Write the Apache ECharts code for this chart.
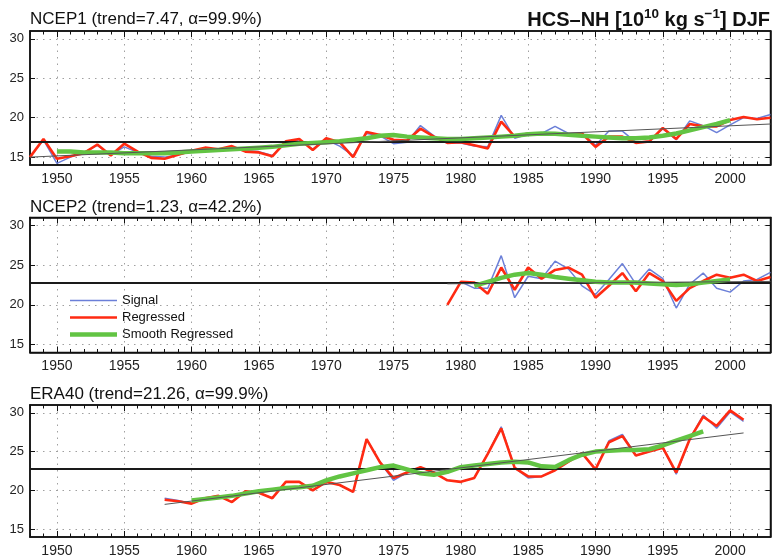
<!DOCTYPE html>
<html><head><meta charset="utf-8">
<script src="https://cdn.jsdelivr.net/npm/echarts@6/dist/echarts.min.js"></script>
<style>html,body{margin:0;padding:0;background:#fff}#c{width:773px;height:558px}</style>
</head><body><div id="c"></div>
<script>
// ---------- DATA ----------
const xMin = 1948, xMax = 2003;
const yMin = 14, yMax = 31;
const xTickLabels = [1950, 1955, 1960, 1965, 1970, 1975, 1980, 1985, 1990, 1995, 2000];
const yTickLabels = [15, 20, 25, 30];
const legendNames = ['Signal', 'Regressed', 'Smooth Regressed'];
const panelTitles = ['NCEP1 (trend=7.47, α=99.9%)', 'NCEP2 (trend=1.23, α=42.2%)', 'ERA40 (trend=21.26, α=99.9%)'];

// NCEP1
const ncep1Start = 1948;
const ncep1Signal = [15.0,17.2,14.2,15.0,15.6,16.5,15.3,16.3,15.6,15.1,
  15.0,15.3,15.7,16.1,16.0,16.3,15.8,15.7,15.2,16.8,
  17.2,16.0,17.2,16.4,15.2,18.0,17.7,16.7,16.9,19.0,
  17.7,16.8,16.8,16.4,16.3,20.3,17.4,17.9,18.0,18.9,
  18.0,18.1,16.5,18.3,18.3,16.9,17.0,18.6,17.2,19.6,
  19.0,18.1,19.1,20.0,19.9,20.4];
const ncep1Regressed = [15.0,17.3,14.8,15.1,15.5,16.6,15.2,16.7,15.7,14.9,
  14.8,15.3,15.8,16.2,16.0,16.4,15.7,15.6,15.1,17.0,
  17.3,15.9,17.4,16.9,15.0,18.2,17.8,17.2,17.1,18.6,
  17.6,16.8,16.9,16.5,16.1,19.5,17.6,18.0,17.9,18.0,
  17.9,18.0,16.3,17.6,17.6,16.8,17.0,18.7,17.3,19.2,
  18.9,18.9,19.7,20.1,19.8,20.0];
const ncep1SmoothStart = 1950;
const ncep1Smooth = [15.7,15.7,15.6,15.6,15.6,15.5,15.5,15.5,15.5,15.6,
  15.7,15.8,15.9,16.0,16.1,16.2,16.3,16.5,16.7,16.8,
  16.9,17.0,17.2,17.4,17.7,17.8,17.6,17.5,17.4,17.3,
  17.3,17.4,17.5,17.6,17.7,17.9,18.0,17.95,17.85,17.7,
  17.6,17.5,17.4,17.4,17.5,17.7,18.0,18.4,18.8,19.2,
  19.7];
const ncep1Trend = [[1948, 15.0], [2003, 19.2]];
const ncep1Mean = 17.0;

// NCEP2
const ncep2SignalStart = 1980;
const ncep2Signal = [22.9,22.1,22.1,26.2,20.9,23.6,23.3,25.5,24.5,22.4,21.3,23.2,25.2,22.6,24.5,23.3,19.6,22.6,24.0,22.1,21.6,23.0,23.2,24.1];
const ncep2RegStart = 1979;
const ncep2Regressed = [20.0,22.9,22.8,21.4,24.7,21.9,24.7,23.3,24.4,24.7,23.8,20.9,22.4,24.0,21.7,24.0,23.0,20.5,22.1,23.0,23.8,23.4,23.8,23.0,23.5];
const ncep2SmoothStart = 1981;
const ncep2Smooth = [22.4,22.9,23.4,23.8,24.0,23.8,23.5,23.3,23.1,22.9,22.8,22.8,22.8,22.7,22.6,22.5,22.6,22.8,23.0,23.2];
const ncep2Trend = [[1979, 22.65], [2003, 22.95]];
const ncep2Mean = 22.8;

// ERA40
const era40Start = 1958;
const era40Signal = [19.0,18.7,18.3,19.0,19.3,18.5,19.9,19.7,19.0,21.1,
  21.1,20.0,21.1,20.7,19.8,26.6,23.6,21.3,22.3,23.0,
  22.3,21.3,21.1,21.6,24.7,28.2,22.9,21.6,21.8,22.6,
  23.7,24.8,22.7,26.4,27.2,24.5,25.0,25.5,22.1,26.6,
  29.7,28.0,30.1,28.9];
const era40Regressed = [18.8,18.6,18.3,19.0,19.3,18.5,19.9,19.7,19.0,21.1,
  21.1,20.0,21.1,20.7,19.8,26.6,23.6,21.6,22.3,23.0,
  22.3,21.3,21.1,21.6,24.7,28.0,22.9,21.8,21.8,22.6,
  23.7,24.8,22.7,26.2,27.0,24.5,25.0,25.5,22.3,26.6,
  29.5,28.3,30.3,29.1];
const era40SmoothStart = 1960;
const era40Smooth = [18.7,18.9,19.1,19.3,19.6,19.9,20.1,20.3,20.4,20.6,
  21.3,21.8,22.2,22.6,23.0,23.2,22.7,22.2,22.0,22.4,
  23.0,23.2,23.4,23.6,23.7,23.6,23.1,23.0,23.9,24.6,
  25.0,25.1,25.2,25.2,25.3,25.8,26.4,27.0,27.6];
const era40Trend = [[1958, 18.2], [2001, 27.4]];
const era40Mean = 22.75;

// ---------- BUILD ----------
const pairs = (start, arr) => arr.map((v, i) => [start + i, v]);
const allYears = [];
for (let y = xMin; y <= xMax; y++) allYears.push(y);

const FONT = "'Liberation Sans', Arial, Helvetica, sans-serif";
const COL = { signal: '#6b7fd8', reg: '#ff2a12', smooth: '#62c443', trend: '#555' };
const W = { signal: 1.5, reg: 2.6, smooth: 4.5 };
const panels = [
  { signal: pairs(ncep1Start, ncep1Signal), reg: pairs(ncep1Start, ncep1Regressed), smooth: pairs(ncep1SmoothStart, ncep1Smooth), trend: ncep1Trend, mean: ncep1Mean },
  { signal: pairs(ncep2SignalStart, ncep2Signal), reg: pairs(ncep2RegStart, ncep2Regressed), smooth: pairs(ncep2SmoothStart, ncep2Smooth), trend: ncep2Trend, mean: ncep2Mean },
  { signal: pairs(era40Start, era40Signal), reg: pairs(era40Start, era40Regressed), smooth: pairs(era40SmoothStart, era40Smooth), trend: era40Trend, mean: era40Mean }
];
const gridTops = [31, 217.5, 405];
const gridHeights = [134, 135, 134];
const titleTops = [11, 198.5, 385.5];

const grids = [], xAxes = [], yAxes = [], series = [], titles = [];
const dotted = { show: true, lineStyle: { color: '#a0a0a0', width: 1, type: [1.5, 5] } };
const axisLineStyle = { show: true, lineStyle: { color: '#111', width: 1.5 } };
const yearFmt = v => String(Math.round(v));

panels.forEach((p, i) => {
  grids.push({ left: 30, right: 2.5, top: gridTops[i], height: gridHeights[i], show: true, borderColor: '#111', borderWidth: 1.5, backgroundColor: '#fff' });
  const base = { gridIndex: i, type: 'value', min: xMin, max: xMax };
  xAxes.push(Object.assign({}, base, {
    position: 'bottom', axisLine: axisLineStyle,
    axisTick: { show: true, inside: true, length: 6, customValues: xTickLabels, lineStyle: { color: '#111', width: 1 } },
    axisLabel: { show: true, customValues: xTickLabels, formatter: yearFmt, margin: 7, fontSize: 14, color: '#222', fontFamily: FONT },
    splitLine: dotted
  }));
  xAxes.push(Object.assign({}, base, {
    position: 'bottom', axisLine: { show: false },
    axisTick: { show: true, inside: true, length: 3.5, customValues: allYears, lineStyle: { color: '#111', width: 1 } },
    axisLabel: { show: false }, splitLine: { show: false }
  }));
  xAxes.push(Object.assign({}, base, {
    position: 'top', axisLine: axisLineStyle,
    axisTick: { show: true, inside: true, length: 6, customValues: xTickLabels, lineStyle: { color: '#111', width: 1 } },
    axisLabel: { show: false }, splitLine: { show: false }
  }));
  xAxes.push(Object.assign({}, base, {
    position: 'top', axisLine: { show: false },
    axisTick: { show: true, inside: true, length: 3.5, customValues: allYears, lineStyle: { color: '#111', width: 1 } },
    axisLabel: { show: false }, splitLine: { show: false }
  }));
  yAxes.push({
    gridIndex: i, type: 'value', min: yMin, max: yMax, position: 'left',
    axisLine: axisLineStyle,
    axisTick: { show: true, inside: true, length: 5, customValues: yTickLabels, lineStyle: { color: '#111', width: 1 } },
    axisLabel: { show: true, customValues: yTickLabels, margin: 6, fontSize: 13, color: '#222', fontFamily: FONT },
    splitLine: dotted
  });
  yAxes.push({
    gridIndex: i, type: 'value', min: yMin, max: yMax, position: 'right',
    axisLine: axisLineStyle,
    axisTick: { show: true, inside: true, length: 5, customValues: yTickLabels, lineStyle: { color: '#111', width: 1 } },
    axisLabel: { show: false }, splitLine: { show: false }
  });
  const xi = i * 4, yi = i * 2;
  const common = { type: 'line', xAxisIndex: xi, yAxisIndex: yi, symbol: 'none', animation: false, silent: true };
  series.push(Object.assign({}, common, {
    name: legendNames[0], data: p.signal, z: 3,
    lineStyle: { color: COL.signal, width: W.signal }, itemStyle: { color: COL.signal },
    markLine: { silent: true, symbol: 'none', label: { show: false }, animation: false,
      lineStyle: { color: '#1a1a1a', width: 2, type: 'solid' }, data: [{ yAxis: p.mean }] }
  }));
  series.push(Object.assign({}, common, {
    name: legendNames[1], data: p.reg, z: 4,
    lineStyle: { color: COL.reg, width: W.reg }, itemStyle: { color: COL.reg }
  }));
  series.push(Object.assign({}, common, {
    name: legendNames[2], data: p.smooth, z: 5,
    lineStyle: { color: COL.smooth, width: W.smooth }, itemStyle: { color: COL.smooth }
  }));
  series.push(Object.assign({}, common, {
    name: 'Trend' + i, data: p.trend, z: 6,
    lineStyle: { color: COL.trend, width: 1 }, itemStyle: { color: COL.trend }
  }));
  titles.push({ text: panelTitles[i], left: 30, top: titleTops[i], padding: 0,
    textStyle: { fontSize: 17, fontWeight: 'normal', color: '#111', fontFamily: FONT } });
});

titles.push({
  text: '{b|HCS–NH [10}{s|10}{b| kg s}{s|−1}{b|] DJF}', right: 3, top: 7, padding: 0,
  textStyle: {
    rich: {
      b: { fontSize: 20, fontWeight: 'bold', color: '#111', fontFamily: FONT, lineHeight: 23, verticalAlign: 'bottom' },
      s: { fontSize: 13.5, fontWeight: 'bold', color: '#111', fontFamily: FONT, lineHeight: 12, verticalAlign: 'top' }
    }
  }
});

const legendIcon = h => 'path://M0,0L47,0L47,' + h + 'L0,' + h + 'Z';
const chart = echarts.init(document.getElementById('c'), null, { renderer: 'canvas' });
chart.setOption({
  animation: false,
  backgroundColor: '#fff',
  title: titles,
  grid: grids,
  xAxis: xAxes,
  yAxis: yAxes,
  legend: {
    data: [
      { name: legendNames[0], icon: legendIcon(W.signal) },
      { name: legendNames[1], icon: legendIcon(W.reg) },
      { name: legendNames[2], icon: legendIcon(W.smooth) }
    ],
    orient: 'vertical', left: 70, top: 294, padding: 0,
    itemWidth: 47, itemHeight: 12, itemGap: 4, selectedMode: false,
    textStyle: { fontSize: 13, color: '#111', fontFamily: FONT }
  },
  series: series
});
</script>
</body></html>
